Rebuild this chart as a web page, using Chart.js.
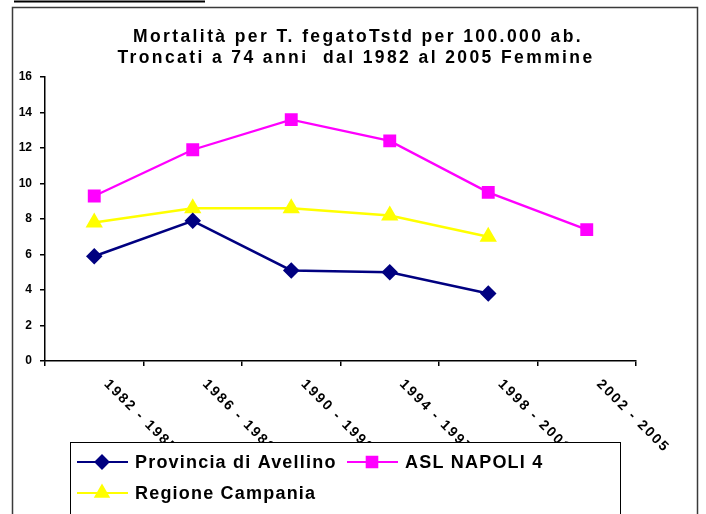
<!DOCTYPE html>
<html>
<head>
<meta charset="utf-8">
<script src="https://cdn.jsdelivr.net/npm/chart.js@4/dist/chart.umd.min.js"></script>
<style>
  html, body { margin: 0; padding: 0; background: #fff; }
  #wrap { position: relative; width: 706px; height: 514px; }
</style>
</head>
<body>
<div id="wrap"><canvas id="chart" width="706" height="514"></canvas></div>
<script>
// periodi (asse x) e tassi standardizzati per 100.000
const periods = ['1982 - 1985', '1986 - 1989', '1990 - 1993', '1994 - 1997', '1998 - 2001', '2002 - 2005'];
const avellino = [5.9, 7.9, 5.1, 5.0, 3.8, null];
const napoli4 = [9.3, 11.9, 13.6, 12.4, 9.5, 7.4];
const campania = [7.8, 8.6, 8.6, 8.2, 7.0, null];
const seriesNames = ['Provincia di Avellino', 'ASL NAPOLI 4', 'Regione Campania'];
const yMin = 0, yMax = 16, yStep = 2;
const titleLines = [
    'Mortalità per T. fegatoTstd per 100.000 ab.',
    'Troncati a 74 anni  dal 1982 al 2005 Femmine'
];

const FONT = '"Liberation Sans", Arial, sans-serif';

// cornice esterna e titolo
const framePlugin = {
    id: 'frame',
    beforeDraw(chart) {
        const ctx = chart.ctx;
        ctx.save();
        ctx.fillStyle = '#fff';
        ctx.fillRect(0, 0, chart.width, chart.height);
        ctx.strokeStyle = '#000';
        ctx.lineWidth = 2;
        ctx.beginPath();
        ctx.moveTo(14, 1.5);
        ctx.lineTo(205, 1.5);
        ctx.stroke();
        ctx.strokeStyle = '#3a3a3a';
        ctx.lineWidth = 1.5;
        ctx.strokeRect(12.5, 7.5, 685, 530);

        ctx.fillStyle = '#000';
        ctx.font = 'bold 17.5px ' + FONT;
        ctx.letterSpacing = '2.4px';
        ctx.textAlign = 'center';
        ctx.textBaseline = 'middle';
        ctx.fillText(titleLines[0], 358, 37);
        ctx.fillText(titleLines[1], 356, 58);
        ctx.restore();
    }
};

// etichette dei periodi, ruotate verso il basso
const periodLabels = {
    id: 'periodLabels',
    afterDraw(chart) {
        const ctx = chart.ctx;
        const x = chart.scales.x;
        ctx.save();
        ctx.fillStyle = '#000';
        ctx.font = 'bold 14px ' + FONT;
        ctx.letterSpacing = '2px';
        ctx.textAlign = 'left';
        ctx.textBaseline = 'middle';
        periods.forEach((p, i) => {
            const px = x.getPixelForValue(i);
            ctx.save();
            ctx.translate(px + 12, x.top + 21);
            ctx.rotate(Math.PI / 4);
            ctx.fillText(p, 0, 0);
            ctx.restore();
        });
        ctx.restore();
    }
};

// legenda in riquadro sotto il grafico
const boxLegend = {
    id: 'boxLegend',
    afterDraw(chart) {
        const ctx = chart.ctx;
        ctx.save();
        ctx.fillStyle = '#fff';
        ctx.fillRect(70, 442, 550, 90);
        ctx.strokeStyle = '#000';
        ctx.lineWidth = 1;
        ctx.strokeRect(70.5, 442.5, 550, 90);

        const slots = [[77, 462], [347, 462], [77, 493]];
        ctx.font = 'bold 18px ' + FONT;
        ctx.letterSpacing = '1.2px';
        ctx.textAlign = 'left';
        ctx.textBaseline = 'middle';
        chart.data.datasets.forEach((ds, i) => {
            const [sx, sy] = slots[i];
            ctx.strokeStyle = ds.borderColor;
            ctx.lineWidth = 2;
            ctx.beginPath();
            ctx.moveTo(sx, sy);
            ctx.lineTo(sx + 51, sy);
            ctx.stroke();
            ctx.fillStyle = ds.pointBackgroundColor;
            Chart.helpers.drawPoint(ctx, {
                pointStyle: ds.pointStyle,
                radius: ds.pointRadius,
                rotation: 0,
                borderWidth: 1
            }, sx + 25, sy);
            ctx.fillStyle = '#000';
            ctx.fillText(ds.label, sx + 58, sy + 1);
        });
        ctx.restore();
    }
};

new Chart(document.getElementById('chart'), {
    type: 'line',
    data: {
        labels: periods,
        datasets: [
            {
                label: seriesNames[0],
                data: avellino,
                borderColor: '#000080',
                backgroundColor: '#000080',
                pointBackgroundColor: '#000080',
                pointBorderColor: '#000080',
                pointStyle: 'rectRot',
                pointRadius: 6.5,
                borderWidth: 2.5
            },
            {
                label: seriesNames[1],
                data: napoli4,
                borderColor: '#ff00ff',
                backgroundColor: '#ff00ff',
                pointBackgroundColor: '#ff00ff',
                pointBorderColor: '#ff00ff',
                pointStyle: 'rect',
                pointRadius: 7.5,
                borderWidth: 2.3
            },
            {
                label: seriesNames[2],
                data: campania,
                borderColor: '#ffff00',
                backgroundColor: '#ffff00',
                pointBackgroundColor: '#ffff00',
                pointBorderColor: '#ffff00',
                pointStyle: 'triangle',
                pointRadius: 7.5,
                borderWidth: 2.5
            }
        ]
    },
    options: {
        responsive: false,
        animation: false,
        devicePixelRatio: 1,
        layout: { padding: { top: 77, right: 70, left: 0, bottom: 0 } },
        plugins: {
            legend: { display: false },
            title: { display: false },
            tooltip: { enabled: false }
        },
        elements: { line: { tension: 0 } },
        scales: {
            x: {
                offset: true,
                grid: {
                    offset: true,
                    drawOnChartArea: false,
                    color: '#000',
                    tickLength: 5,
                    lineWidth: 1.5
                },
                border: { color: '#000', width: 1.5 },
                ticks: { display: false },
                afterFit(scale) { scale.height = 153; }
            },
            y: {
                min: yMin,
                max: yMax,
                ticks: {
                    stepSize: yStep,
                    color: '#000',
                    padding: 8,
                    font: { family: FONT, size: 12, weight: 'bold' }
                },
                grid: {
                    drawOnChartArea: false,
                    color: '#000',
                    tickLength: 5,
                    lineWidth: 1.5
                },
                border: { color: '#000', width: 1.5 },
                afterFit(scale) { scale.width = 45; }
            }
        }
    },
    plugins: [framePlugin, periodLabels, boxLegend]
});
</script>
</body>
</html>
